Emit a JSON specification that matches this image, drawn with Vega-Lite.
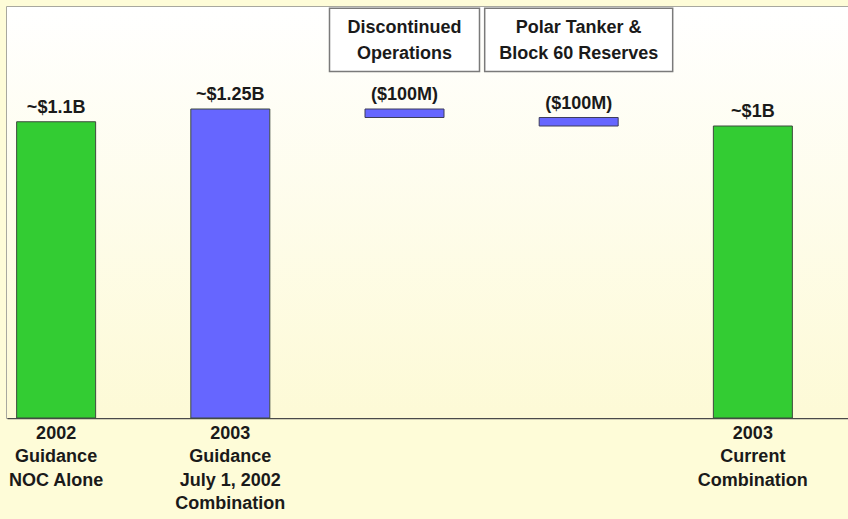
{
  "$schema": "https://vega.github.io/schema/vega-lite/v6.json",
  "width": 842,
  "height": 411,
  "autosize": "none",
  "padding": {"left": 7, "top": 7, "right": 0, "bottom": 101},
  "background": "#fefcd8",
  "config": {
    "view": {"stroke": "#8c8c8c", "strokeWidth": 1.5},
    "font": "Liberation Sans",
    "text": {"font": "Liberation Sans", "fontWeight": "bold", "fontSize": 18, "color": "#1a1a1a"}
  },
  "data": {
    "values": [
      {"category": "2002|Guidance|NOC Alone", "kind": "endpoint", "high": 1.1, "label": "~$1.1B"},
      {"category": "2003|Guidance|July 1, 2002|Combination", "kind": "step", "high": 1.25, "label": "~$1.25B"},
      {"category": "Discontinued|Operations", "kind": "step", "high": 1.25, "low": 1.15, "label": "($100M)"},
      {"category": "Polar Tanker &|Block 60 Reserves", "kind": "step", "high": 1.15, "low": 1.05, "label": "($100M)"},
      {"category": "2003|Current|Combination", "kind": "endpoint", "high": 1.05, "label": "~$1B"}
    ]
  },
  "encoding": {
    "x": {
      "field": "category",
      "type": "nominal",
      "sort": null,
      "scale": {
        "domain": ["2002|Guidance|NOC Alone", "2003|Guidance|July 1, 2002|Combination", "Discontinued|Operations", "Polar Tanker &|Block 60 Reserves", "2003|Current|Combination"],
        "paddingInner": 0.546,
        "paddingOuter": 0.19,
        "align": 0.145
      },
      "axis": {
        "title": null,
        "domain": true,
        "domainColor": "#4a4a4a",
        "domainWidth": 1.5,
        "ticks": false,
        "labelAngle": 0,
        "labelExpr": "indexof(datum.label, '20') == 0 ? split(datum.label, '|') : ''",
        "labelFont": "Liberation Sans",
        "labelFontWeight": "bold",
        "labelFontSize": 18,
        "labelColor": "#1a1a1a",
        "labelLineHeight": 23.5,
        "labelBaseline": "top",
        "labelPadding": 6
      }
    }
  },
  "layer": [
    {
      "data": {"values": [{"note": "background"}]},
      "mark": {
        "type": "rect",
        "fill": {
          "gradient": "linear", "x1": 0, "y1": 0, "x2": 0, "y2": 1,
          "stops": [{"offset": 0, "color": "#ffffff"}, {"offset": 1, "color": "#fdfad6"}]
        }
      },
      "encoding": {"x": null}
    },
    {
      "transform": [{"filter": "!isValid(datum.low)"}],
      "mark": {"type": "bar", "width": 79, "stroke": "#3d4a3d", "strokeWidth": 1},
      "encoding": {
        "y": {"field": "high", "type": "quantitative", "scale": {"domain": [-2.385, 2.45], "zero": false, "nice": false}, "axis": null},
        "y2": {"datum": -2.385},
        "color": {"field": "kind", "type": "nominal", "scale": {"domain": ["endpoint", "step"], "range": ["#33cc33", "#6666ff"]}, "legend": null}
      }
    },
    {
      "transform": [{"filter": "isValid(datum.low)"}],
      "mark": {"type": "bar", "width": 79, "stroke": "#3d3d5a", "strokeWidth": 1},
      "encoding": {
        "y": {"field": "high", "type": "quantitative"},
        "y2": {"field": "low"},
        "color": {"field": "kind", "type": "nominal", "legend": null}
      }
    },
    {
      "mark": {"type": "text", "baseline": "alphabetic", "dy": -9},
      "encoding": {
        "y": {"field": "high", "type": "quantitative"},
        "text": {"field": "label"}
      }
    },
    {
      "transform": [{"filter": "datum.category == 'Discontinued|Operations'"}],
      "mark": {"type": "bar", "width": 150, "fill": "#ffffff", "stroke": "#7a7a7a", "strokeWidth": 1.5},
      "encoding": {"y": {"datum": 2.435}, "y2": {"datum": 1.69}}
    },
    {
      "transform": [{"filter": "datum.category == 'Polar Tanker &|Block 60 Reserves'"}],
      "mark": {"type": "bar", "width": 188, "fill": "#ffffff", "stroke": "#7a7a7a", "strokeWidth": 1.5},
      "encoding": {"y": {"datum": 2.435}, "y2": {"datum": 1.69}}
    },
    {
      "transform": [{"filter": "isValid(datum.low)"}],
      "mark": {"type": "text", "baseline": "middle", "lineBreak": "|", "lineHeight": 26},
      "encoding": {
        "y": {"datum": 2.2},
        "text": {"field": "category"}
      }
    }
  ]
}
